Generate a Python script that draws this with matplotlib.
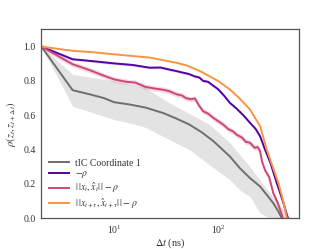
import numpy as np
import matplotlib
matplotlib.use("Agg")
import matplotlib.pyplot as plt

plt.rcParams['font.family'] = ['Liberation Serif', 'DejaVu Serif']
plt.rcParams['mathtext.fontset'] = 'stix'

# tIC coordinate 1 (gray) with band
t_tic = [2, 4, 6, 8, 10, 14, 20, 30, 40, 53, 70, 90, 130, 162, 203, 254, 300, 340, 380, 411]
v_tic = [1.0, 0.746, 0.72, 0.70, 0.676, 0.663, 0.645, 0.612, 0.58, 0.546, 0.50, 0.45, 0.36, 0.292, 0.234, 0.185, 0.13, 0.088, 0.04, 0.0]
band_t = [2, 4, 10, 14, 20, 34, 53, 83, 130, 162, 203, 254, 316, 400, 494]
band_hi = [1.0, 0.838, 0.80, 0.78, 0.76, 0.672, 0.61, 0.546, 0.44, 0.37, 0.30, 0.22, 0.146, 0.07, 0.0]
band_lo = [1.0, 0.653, 0.575, 0.555, 0.53, 0.458, 0.40, 0.31, 0.224, 0.165, 0.126, 0.03, 0.0, 0.0, 0.0]

# -rho (purple)
t_p = [2, 4, 6, 10, 15, 22, 28, 34, 40, 46, 52, 60, 66, 72, 80, 90, 100, 115, 130, 150, 175, 203, 230, 254, 283, 320, 367, 420, 470]
v_p = [1.0, 0.926, 0.916, 0.902, 0.893, 0.877, 0.878, 0.866, 0.857, 0.848, 0.841, 0.826, 0.82, 0.80, 0.795, 0.772, 0.752, 0.712, 0.672, 0.64, 0.60, 0.556, 0.52, 0.477, 0.40, 0.32, 0.205, 0.10, 0.0]

# ||x_t, x_hat_t|| - rho (pink)
t_k = [2, 4, 6, 8, 10, 13, 16, 20, 25, 30, 34, 40, 45, 49, 55, 60, 65, 72, 80, 90, 100, 112, 125, 140, 151, 170, 185, 203, 225, 240, 254, 265, 283, 310, 340, 375, 405, 420]
v_k = [1.0, 0.897, 0.86, 0.83, 0.809, 0.795, 0.79, 0.765, 0.755, 0.748, 0.74, 0.722, 0.715, 0.70, 0.693, 0.698, 0.66, 0.623, 0.61, 0.585, 0.566, 0.546, 0.52, 0.505, 0.487, 0.47, 0.445, 0.44, 0.41, 0.415, 0.39, 0.33, 0.28, 0.24, 0.146, 0.09, 0.03, 0.0]

# ||x_{t+tau}, x_hat_{t+tau}|| - rho (orange)
t_o = [2, 4, 6, 10, 15, 22, 30, 40, 50, 67, 100, 130, 160, 203, 254, 294, 340, 381, 420, 460]
v_o = [1.0, 0.975, 0.968, 0.955, 0.945, 0.936, 0.92, 0.905, 0.89, 0.857, 0.80, 0.75, 0.70, 0.633, 0.536, 0.40, 0.29, 0.205, 0.11, 0.0]

labels = ['tIC Coordinate 1', r'$-\rho$', r'$|\,|x_t, \hat{x}_t|\,| - \rho$',
          r'$|\,|x_{t+\tau}, \hat{x}_{t+\tau}|\,| - \rho$']

cmap = plt.get_cmap('plasma')
c_gray = '#6e6e6e'
c_p = cmap(0.15)
c_k = cmap(0.5)
c_o = cmap(0.75)

fig = plt.figure(figsize=(3.32, 2.49), dpi=100)
ax = fig.add_axes([0.1245, 0.1233, 0.776, 0.7587])

ax.fill_between(band_t, band_lo, band_hi, color='#e3e3e3', lw=0)
ax.plot(t_tic, v_tic, color=c_gray, lw=1.4, label=labels[0])

vp = np.array(v_p)
ax.fill_between(t_p, vp - 0.008, vp + 0.008, color=c_p, alpha=0.15, lw=0)
ax.plot(t_p, v_p, color=c_p, lw=1.4, label=labels[1])

vk = np.array(v_k)
ax.fill_between(t_k, vk - 0.016, vk + 0.016, color=c_k, alpha=0.2, lw=0)
ax.plot(t_k, v_k, color=c_k, lw=1.4, label=labels[2])

ax.plot(t_o, v_o, color=c_o, lw=1.4, label=labels[3])

ax.set_xscale('log')
ax.set_xlim(2, 600)
ax.set_ylim(0, 1.1)
ax.set_yticks([0.0, 0.2, 0.4, 0.6, 0.8, 1.0])
ax.set_xticks([10, 100])
ax.minorticks_off()
ax.tick_params(length=0, labelsize=7, colors='#333333', pad=4)
for s in ax.spines.values():
    s.set_color('#555555')
    s.set_linewidth(0.9)

ax.set_xlabel(r'$\Delta t$ (ns)', fontsize=7.5, color='#333333', labelpad=0)
ax.set_ylabel(r'$\rho(z_t, z_{t+\Delta t})$', fontsize=7.5, color='#333333', labelpad=4)

leg = ax.legend(loc='lower left', frameon=False, fontsize=7, handlelength=2.0,
                handletextpad=0.7, borderaxespad=0.4, labelspacing=0.12,
                bbox_to_anchor=(0.0, 0.0))
for txt in leg.get_texts():
    txt.set_color('#333333')

fig.savefig('out.png', dpi=100)
